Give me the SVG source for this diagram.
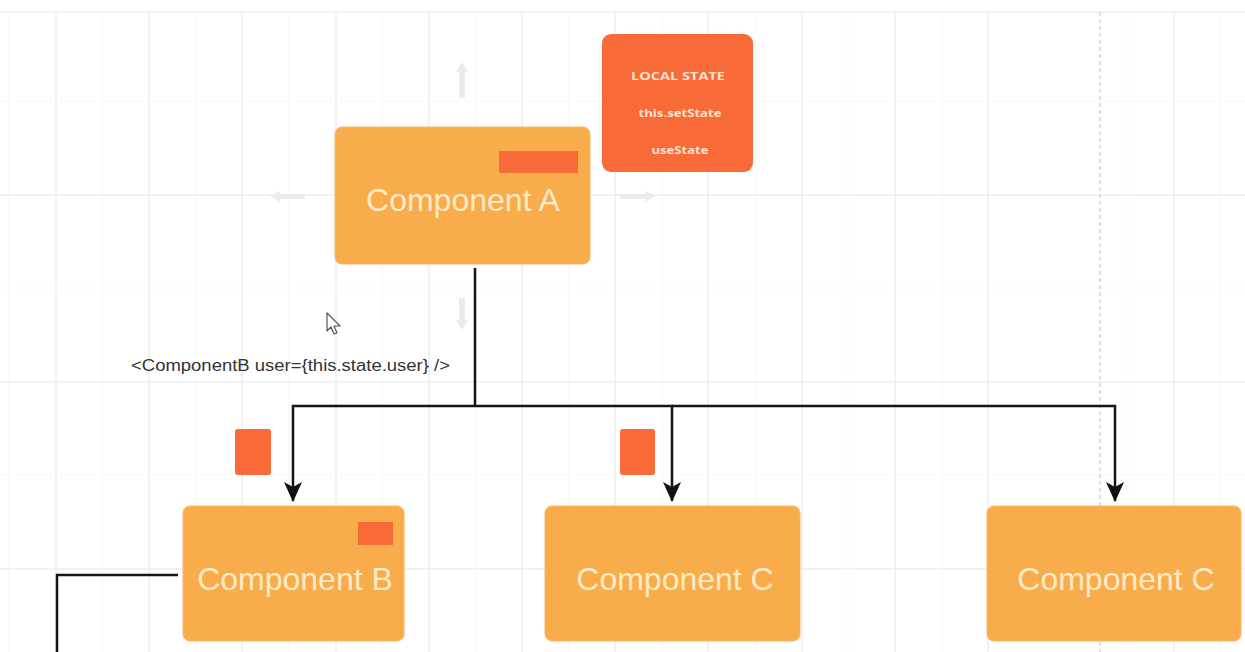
<svg xmlns="http://www.w3.org/2000/svg" width="1245" height="652" viewBox="0 0 1245 652">
<style>
.grid{stroke:#ECEEF1;stroke-width:1.5;fill:none}
.gridm{stroke:#F6F7F8;stroke-width:1;fill:none}
.comp{fill:#F9AC4B;stroke:#FBB75E;stroke-width:1}
.ctext{font-family:"Liberation Sans",Arial,sans-serif;font-size:32px;fill:#FDEBC6;text-anchor:middle}
.red{fill:#F86A38}
.state{font-family:"Open Sans","Liberation Sans",sans-serif;font-size:11px;font-weight:bold;fill:#FDE3CF;text-anchor:middle}
.edge{stroke:#151515;stroke-width:2.5;fill:none}
.ghost{fill:#E9EBEF}
</style>
<defs>
<marker id="arr" markerWidth="20" markerHeight="18" refX="19" refY="9" orient="auto" markerUnits="userSpaceOnUse" viewBox="0 0 20 18">
<path d="M0,0 L20,9 L0,18 L5,9 Z" fill="#111"/>
</marker>
</defs>
<rect width="1245" height="652" fill="#ffffff"/>
<g id="grid">
<path class="gridm" d="M102,12V652M196,12V652M289,12V652M382,12V652M476,12V652M569,12V652M662,12V652M755,12V652M848,12V652M942,12V652M1128,12V652M1221,12V652M9,12V652"/>
<path class="gridm" d="M0,101H1245M0,288H1245M0,475H1245"/>
<path class="grid" d="M56,12V652M149,12V652M242,12V652M336,12V652M429,12V652M522,12V652M615,12V652M708,12V652M802,12V652M895,12V652M988,12V652M1174,12V652"/>
<path class="grid" d="M0,12H1245M0,195H1245M0,382H1245M0,569H1245"/>
<path d="M1100,12V652" stroke="#C9CCD1" stroke-width="1.2" stroke-dasharray="4,3" fill="none"/>
</g>
<g id="ghost-arrows">
<path class="ghost" d="M462,62 L468,72 L465,72 L465,98 L459,98 L459,72 L456,72 Z"/>
<path class="ghost" d="M462,330 L468,320 L465,320 L465,298 L459,298 L459,320 L456,320 Z"/>
<path class="ghost" d="M270,196 L280,191 L280,194 L305,194 L305,199 L280,199 L280,202 Z"/>
<path class="ghost" d="M655,196 L645,191 L645,194 L620,194 L620,199 L645,199 L645,202 Z"/>
</g>
<g id="connectors">
<path class="edge" d="M475,268 V406"/>
<path class="edge" d="M475,406 H293 V501" marker-end="url(#arr)"/>
<path class="edge" d="M475,406 H672 V501" marker-end="url(#arr)"/>
<path class="edge" d="M672,406 H1115 V501" marker-end="url(#arr)"/>
<path class="edge" d="M178,575 H57 V652"/>
<text x="131" y="371" font-family="Liberation Sans,Arial,sans-serif" font-size="16" fill="#333333" textLength="319" lengthAdjust="spacingAndGlyphs">&lt;ComponentB user={this.state.user} /&gt;</text>
</g>
<g id="local-state">
<rect x="602" y="34" width="151" height="138" rx="9" class="red"/>
<text class="state" x="678" y="80" textLength="94" lengthAdjust="spacingAndGlyphs">LOCAL STATE</text>
<text class="state" x="680" y="117" textLength="83" lengthAdjust="spacingAndGlyphs">this.setState</text>
<text class="state" x="680" y="154" textLength="57" lengthAdjust="spacingAndGlyphs">useState</text>
</g>
<g id="component-a">
<rect x="335" y="127" width="255" height="137" rx="7" class="comp"/>
<rect x="499" y="151" width="79" height="22" class="red"/>
<text class="ctext" x="463" y="211">Component A</text>
</g>
<g id="badge-b">
<rect x="235" y="429" width="36" height="46" rx="3" class="red"/>
</g>
<g id="badge-c">
<rect x="620" y="429" width="35" height="46" rx="3" class="red"/>
</g>
<g id="component-b">
<rect x="183" y="506" width="221" height="135" rx="7" class="comp"/>
<rect x="358" y="522" width="35" height="23" class="red"/>
<text class="ctext" x="295" y="590">Component B</text>
</g>
<g id="component-c1">
<rect x="545" y="506" width="255" height="135" rx="7" class="comp"/>
<text class="ctext" x="675" y="590">Component C</text>
</g>
<g id="component-c2">
<rect x="987" y="506" width="254" height="135" rx="7" class="comp"/>
<text class="ctext" x="1116" y="590">Component C</text>
</g>
<g id="cursor">
<path d="M327,313 L327,331 L331,327 L334,334 L337,333 L334,326 L340,326 Z" fill="#ffffff" stroke="#555" stroke-width="1.2" stroke-linejoin="round"/>
</g>
</svg>
